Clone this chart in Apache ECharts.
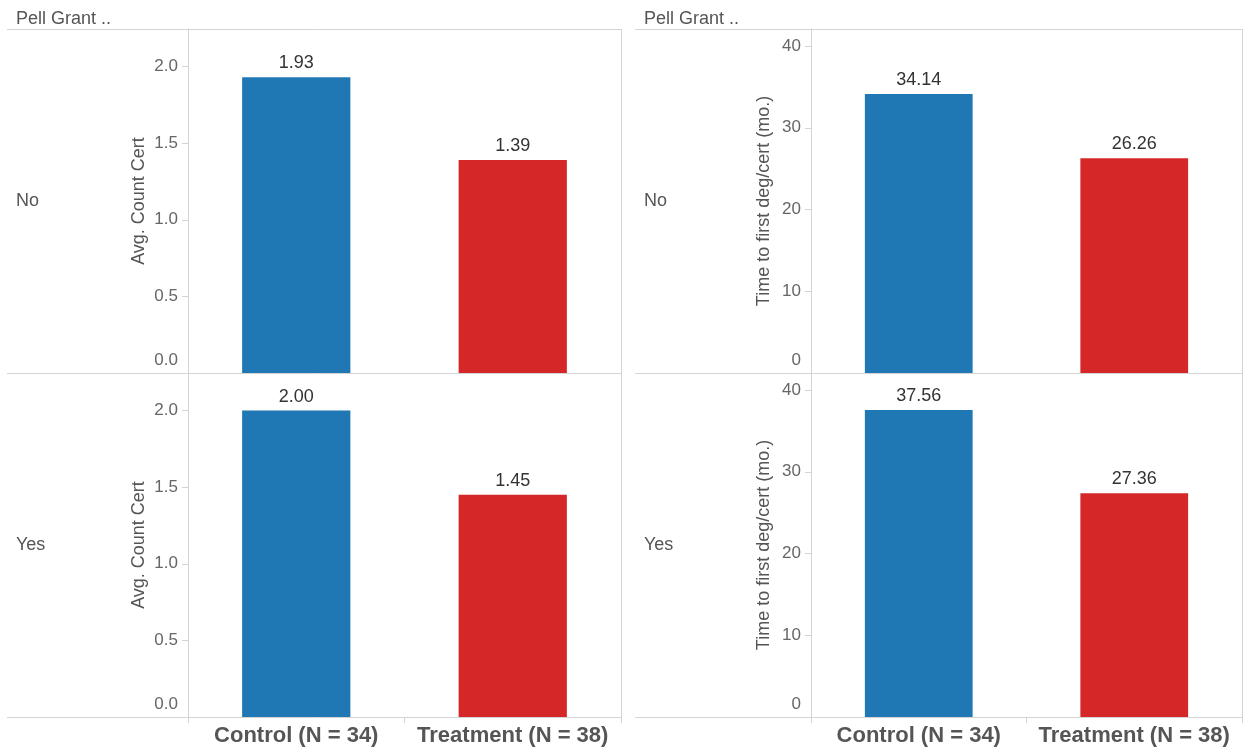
<!DOCTYPE html>
<html>
<head>
<meta charset="utf-8">
<title>Pell Grant</title>
<script src="https://cdn.jsdelivr.net/npm/echarts@6/dist/echarts.min.js"></script>
<style>
  html, body { margin: 0; padding: 0; background: #fff; }
  #chart { width: 1244px; height: 749px; }
</style>
</head>
<body>
<div id="chart"></div>
<script>
// data
const categories = ['Control (N = 34)', 'Treatment (N = 38)'];
const pellGroups = ['No', 'Yes'];
const avgCountCertNo = [1.93, 1.39];
const avgCountCertYes = [2.00, 1.45];
const monthsToFirstNo = [34.14, 26.26];
const monthsToFirstYes = [37.56, 27.36];
const countTicks = [0, 0.5, 1, 1.5, 2];
const monthTicks = [0, 10, 20, 30, 40];
const barColors = ['#1f77b4', '#d62728'];

// layout
const FONT = "'Liberation Sans', Arial, sans-serif";
const LINE = '#d4d4d4';
const rowTops = [29, 373];
const rowH = 344;
const panels = [
  { x0: 7, axisX: 188, x1: 621, headX: 16, max: 2.245, ticks: countTicks,
    name: 'Avg. Count Cert', gap: 40, dec: 1, rows: [avgCountCertNo, avgCountCertYes] },
  { x0: 635, axisX: 811, x1: 1242, headX: 644, max: 42.08, ticks: monthTicks,
    name: 'Time to first deg/cert (mo.)', gap: 38, dec: 0, rows: [monthsToFirstNo, monthsToFirstYes] }
];

const chart = echarts.init(document.getElementById('chart'));

const grid = [], xAxis = [], yAxis = [], series = [], graphic = [];

panels.forEach((p, pi) => {
  // frame lines (header / row dividers)
  [29, 373, 717].forEach(y => {
    graphic.push({ type: 'line', silent: true,
      shape: { x1: p.x0, y1: y + 0.5, x2: p.x1 + 1, y2: y + 0.5 },
      style: { stroke: LINE, lineWidth: 1 } });
  });
  graphic.push({ type: 'line', silent: true,
    shape: { x1: p.x1 + 0.5, y1: 29, x2: p.x1 + 0.5, y2: 723 },
    style: { stroke: LINE, lineWidth: 1 } });
  graphic.push({ type: 'text', left: p.headX, top: 10,
    style: { text: 'Pell Grant ..', font: '18px ' + FONT, fill: '#555' } });

  pellGroups.forEach((g, ri) => {
    const idx = pi * 2 + ri;
    const isBottom = ri === pellGroups.length - 1;
    graphic.push({ type: 'text', left: p.headX, top: rowTops[ri] + rowH / 2 - 9,
      style: { text: g, font: '18px ' + FONT, fill: '#555' } });

    grid.push({ left: p.axisX, top: rowTops[ri], width: p.x1 - p.axisX, height: rowH });

    xAxis.push({
      type: 'category', gridIndex: idx, data: categories,
      axisLine: { show: false },
      axisTick: { show: isBottom, length: 6, lineStyle: { color: LINE } },
      axisLabel: { show: isBottom, interval: 0, margin: 8, color: '#555',
        fontFamily: FONT, fontSize: 22, fontWeight: 'bold' }
    });

    yAxis.push({
      type: 'value', gridIndex: idx, min: 0, max: p.max,
      name: p.name, nameLocation: 'middle', nameGap: p.gap,
      nameTextStyle: { color: '#555', fontFamily: FONT, fontSize: 18 },
      axisLine: { show: true, lineStyle: { color: LINE } },
      axisTick: { show: true, length: 6, customValues: p.ticks, lineStyle: { color: LINE } },
      splitLine: { show: false },
      axisLabel: {
        customValues: p.ticks, margin: 10, color: '#666',
        fontFamily: FONT, fontSize: 17,
        formatter: v => v === 0 ? '{z|' + v.toFixed(p.dec) + '}' : v.toFixed(p.dec),
        rich: { z: { fontFamily: FONT, fontSize: 17, color: '#666', padding: [0, 0, 26, 0] } }
      }
    });

    series.push({
      type: 'bar', xAxisIndex: idx, yAxisIndex: idx, barWidth: '50%',
      data: p.rows[ri].map((v, i) => ({ value: v, itemStyle: { color: barColors[i] } })),
      label: { show: true, position: 'top', distance: 5, color: '#333',
        fontFamily: FONT, fontSize: 18, formatter: d => d.value.toFixed(2) },
      silent: true
    });
  });
});

chart.setOption({
  animation: false,
  textStyle: { fontFamily: FONT },
  grid, xAxis, yAxis, series, graphic
});

window.addEventListener('resize', () => chart.resize());
</script>
</body>
</html>
